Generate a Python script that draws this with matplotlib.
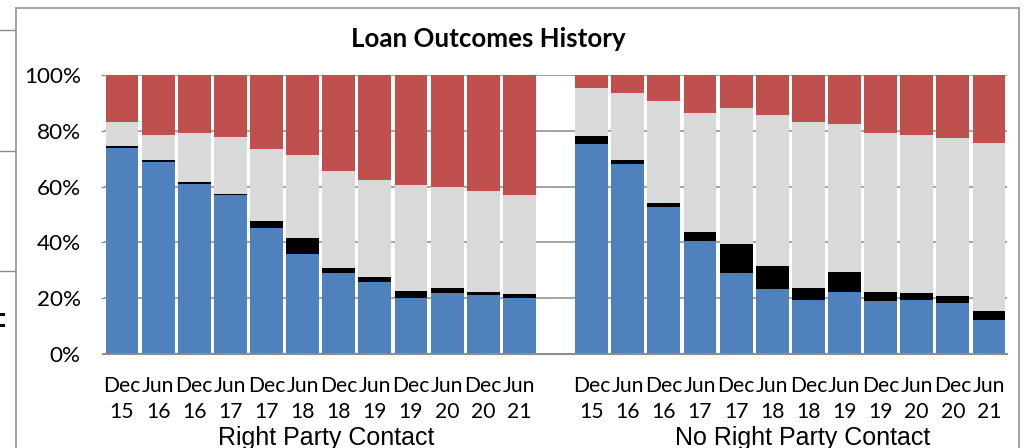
import numpy as np
import matplotlib
matplotlib.use("Agg")
import matplotlib.pyplot as plt
from matplotlib.patches import Rectangle
from matplotlib.lines import Line2D
import matplotlib.transforms as mtransforms

# ---------------- data ----------------
months = ["Dec", "Jun", "Dec", "Jun", "Dec", "Jun", "Dec", "Jun", "Dec", "Jun", "Dec", "Jun"]
years = ["15", "16", "16", "17", "17", "18", "18", "19", "19", "20", "20", "21"]
groups = ["Right Party Contact", "No Right Party Contact"]

# Right Party Contact (stack bottom -> top: blue, black, gray, red), in %
rpc_blue = [74.0, 68.7, 61.1, 56.9, 45.2, 35.9, 29.0, 25.7, 20.1, 21.8, 21.0, 19.9]
rpc_black = [0.5, 0.7, 0.6, 0.5, 2.6, 5.7, 1.9, 2.0, 2.5, 2.0, 1.3, 1.6]
rpc_gray = [8.6, 9.1, 17.4, 20.2, 25.6, 29.7, 34.7, 34.6, 37.9, 36.0, 36.2, 35.6]
rpc_red = [16.9, 21.5, 20.9, 22.4, 26.6, 28.7, 34.4, 37.7, 39.5, 40.2, 41.5, 42.9]

# No Right Party Contact
nrpc_blue = [75.3, 68.2, 52.7, 40.6, 29.2, 23.4, 19.3, 22.1, 19.1, 19.5, 18.4, 12.3]
nrpc_black = [2.9, 1.2, 1.5, 3.0, 10.3, 8.3, 4.3, 7.2, 3.3, 2.2, 2.5, 3.0]
nrpc_gray = [17.3, 24.0, 36.6, 42.9, 48.5, 53.9, 59.7, 53.2, 56.7, 56.8, 56.6, 60.3]
nrpc_red = [4.5, 6.6, 9.2, 13.5, 12.0, 14.4, 16.7, 17.5, 20.9, 21.5, 22.5, 24.4]

y_ticks = [0, 20, 40, 60, 80, 100]
title = "Loan Outcomes History"

colors = ["#4f81bd", "#000000", "#d9d9d9", "#c0504d"]

# ---------------- figure ----------------
W, H = 1029, 448
fig = plt.figure(figsize=(W / 100, H / 100), dpi=100)
fig.patch.set_facecolor("white")

ax = fig.add_axes([104 / W, 1 - 354 / H, 903 / W, 279 / H])

n = len(months)
x_rpc = np.arange(n)
x_nrpc = np.arange(n) + n + 1

for xs, series in [(x_rpc, [rpc_blue, rpc_black, rpc_gray, rpc_red]),
                   (x_nrpc, [nrpc_blue, nrpc_black, nrpc_gray, nrpc_red])]:
    bottom = np.zeros(n)
    for vals, c in zip(series, colors):
        ax.bar(xs, vals, bottom=bottom, width=0.91, color=c, linewidth=0, zorder=3)
        bottom = bottom + np.array(vals)

ax.set_xlim(-0.5, 2 * n + 0.5)
ax.set_ylim(0, 100)
ax.set_yticks(y_ticks)
ax.set_yticklabels([f"{v}%" for v in y_ticks], fontsize=16.2, family="Lato")
ax.tick_params(axis="y", length=2.2, width=1, color="#8c8c8c", pad=14.5, labelcolor="black")
ax.set_xticks([])
ax.yaxis.grid(True, color="#8c8c8c", linewidth=1.1, zorder=0)
ax.set_axisbelow(True)
for s in ["top", "right", "left"]:
    ax.spines[s].set_visible(False)
ax.spines["bottom"].set_color("#8c8c8c")
ax.spines["bottom"].set_linewidth(1.5)
ax.spines["bottom"].set_zorder(4)

# x labels (two lines) and group labels
trans = mtransforms.blended_transform_factory(ax.transData, fig.transFigure)
for xs in (x_rpc, x_nrpc):
    for xi, m, yv in zip(xs, months, years):
        ax.text(xi, 1 - 391.5 / H, m, transform=trans, ha="center", va="baseline",
                fontsize=15.2, family="Lato", color="black")
        ax.text(xi, 1 - 417.5 / H, yv, transform=trans, ha="center", va="baseline",
                fontsize=15.2, family="Lato", color="black")

ax.text(x_rpc.mean() + 0.14, 1 - 445 / H, groups[0], transform=trans, ha="center",
        va="baseline", fontsize=18, family="Liberation Sans", color="black")
ax.text(x_nrpc.mean() + 0.33, 1 - 445 / H, groups[1], transform=trans, ha="center",
        va="baseline", fontsize=18, family="Liberation Sans", color="black")

# title
fig.text(488 / W, 1 - 46.7 / H, title, ha="center", va="baseline", fontsize=18.6,
         fontweight="bold", family="Lato", color="black")

# chart-area border (extends past bottom of the crop)
fig.patches.append(Rectangle((16 / W, -0.1), (1019 - 16) / W, 1.1 - 8 / H,
                             transform=fig.transFigure, fill=False,
                             edgecolor="#a6a6a6", linewidth=1.5, zorder=0))

# fragments of a neighbouring chart at the far left
for yy in (30, 151, 271):
    fig.lines.append(Line2D([0, 15 / W], [1 - yy / H] * 2, transform=fig.transFigure,
                            color="#8c8c8c", linewidth=1))
for yy in (314, 325):
    fig.lines.append(Line2D([0, 3 / W], [1 - yy / H] * 2, transform=fig.transFigure,
                            color="black", linewidth=2.2))

fig.savefig("out.png", dpi=100, facecolor="white")
